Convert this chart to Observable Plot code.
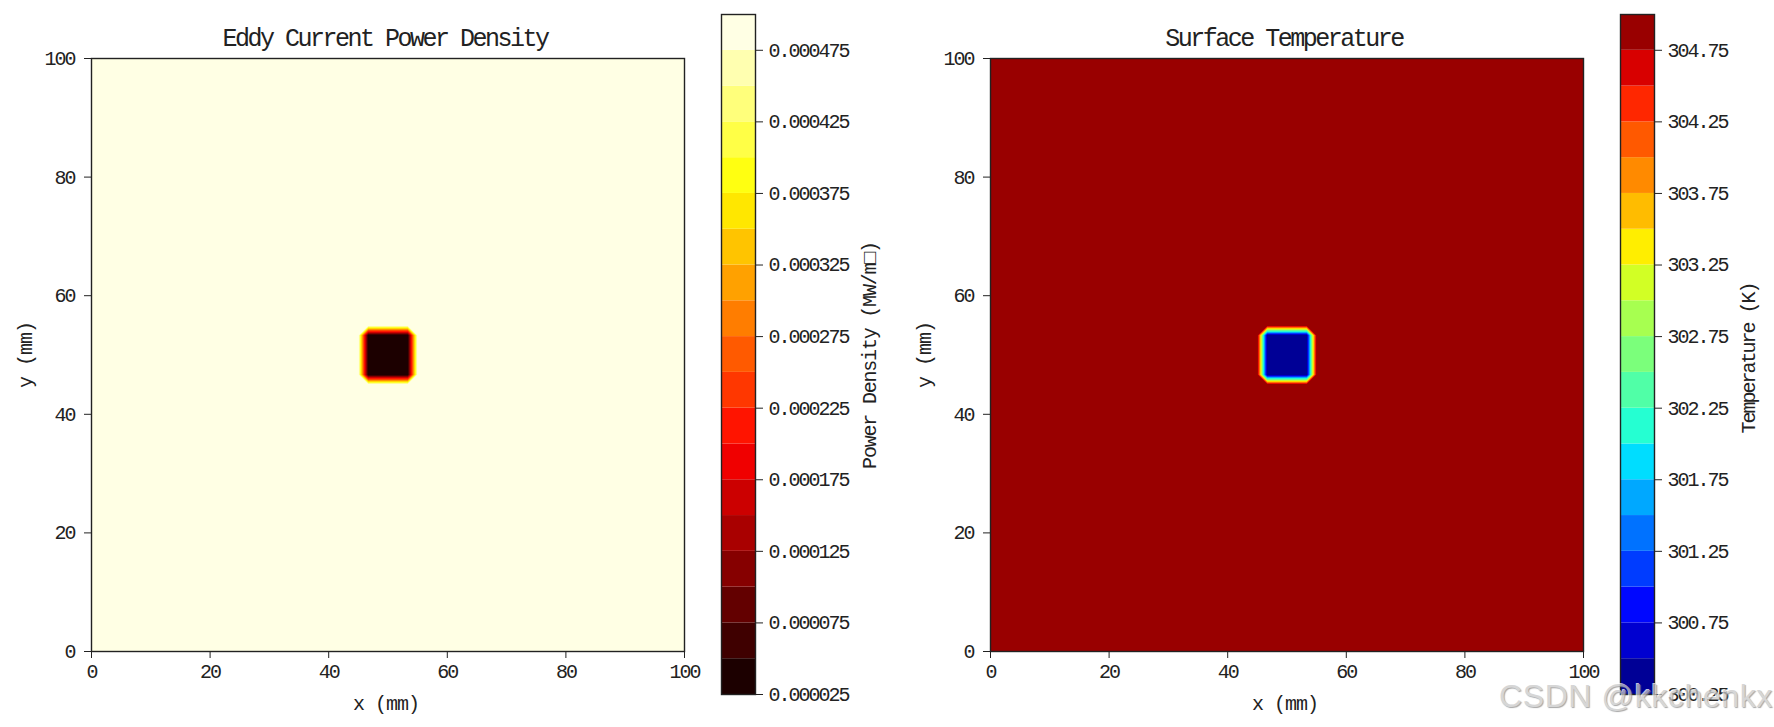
<!DOCTYPE html>
<html>
<head>
<meta charset="utf-8">
<script src="https://cdn.jsdelivr.net/npm/d3@7"></script>
<script src="https://cdn.jsdelivr.net/npm/@observablehq/plot@0.6"></script>
<style>
html,body{margin:0;padding:0;background:#fff;width:1774px;height:727px;overflow:hidden}
#stage{position:relative;width:1774px;height:727px}
#stage>*{position:absolute;top:0}
#mark{left:1499px;top:678px;font:32px "Liberation Sans",sans-serif;color:#c9c9c9;white-space:nowrap;
text-shadow:1px 1px 1px #8a8a8a,-1px -1px 0 #fff;letter-spacing:.6px;opacity:.75}
</style>
</head>
<body>
<div id="stage"></div>
<script>
// Axes
const axisTicks = [0, 20, 40, 60, 80, 100];
const gridPoints = 61;
const holeIndices = [28, 29, 30, 31, 32];

// Eddy current power density
const powerOutside = 0.0005;
const powerHole = 0.00003;
const powerLevels = [0.000025,0.00005,0.000075,0.0001,0.000125,0.00015,0.000175,0.0002,0.000225,0.00025,0.000275,0.0003,0.000325,0.00035,0.000375,0.0004,0.000425,0.00045,0.000475,0.0005];
const powerTicks = [0.000025,0.000075,0.000125,0.000175,0.000225,0.000275,0.000325,0.000375,0.000425,0.000475];
const powerColors = ["#1c0000","#3f0000","#630000","#860000","#a90000","#cc0000","#f00000","#ff1400","#ff3700","#ff5a00","#ff7d00","#ffa100","#ffc400","#ffe700","#ffff11","#ffff46","#ffff7b","#ffffb0","#ffffe4"];

// Surface temperature
const tempOutside = 305;
const tempHole = 300.3;
const tempLevels = [300.25,300.5,300.75,301,301.25,301.5,301.75,302,302.25,302.5,302.75,303,303.25,303.5,303.75,304,304.25,304.5,304.75,305];
const tempTicks = [300.25,300.75,301.25,301.75,302.25,302.75,303.25,303.75,304.25,304.75];
const tempColors = ["#000096","#0000d0","#0007ff","#003cff","#0072ff","#00a8ff","#00ddff","#25ffd2","#50ffa7","#7bff7b","#a7ff50","#d2ff25","#ffee00","#ffbc00","#ff8a00","#ff5900","#ff2700","#d80000","#990000"];

const FONT = '"Liberation Mono","DejaVu Sans Mono",monospace';
const INK = "#222";
const stage = document.getElementById("stage");

function buildField(outside, hole) {
  const f = new Array(gridPoints * gridPoints).fill(outside);
  for (const r of holeIndices) for (const c of holeIndices) f[r * gridPoints + c] = hole;
  return f;
}
const textStyle = {fontFamily: FONT, fontSize: "20px", letterSpacing: "-2px", color: INK, background: "transparent", overflow: "visible"};

function tune(svg, ariaLabel, spacing, dx = 0, dy = 0) {
  for (const el of svg.querySelectorAll(`g[aria-label="${ariaLabel}"]`)) {
    el.style.letterSpacing = spacing;
    el.setAttribute("transform", `translate(${dx},${dy}) ${el.getAttribute("transform") || ""}`);
  }
}

function panel({left, marginLeft, marginRight, labelOffset, title, field, levels, colors}) {
  const half = 100 / (gridPoints - 1) / 2;
  const svg = Plot.plot({
    width: 700, height: 727,
    marginLeft, marginRight, marginTop: 58, marginBottom: 76,
    style: textStyle,
    x: {domain: [0, 100]},
    y: {domain: [0, 100]},
    color: {type: "ordinal", domain: levels.slice(0, -1), range: colors},
    marks: [
      Plot.contour(field, {
        width: gridPoints, height: gridPoints,
        x1: -half, x2: 100 + half, y1: -half, y2: 100 + half,
        thresholds: levels.slice(0, -1), fill: Plot.identity, clip: true
      }),
      Plot.frame({stroke: INK, strokeWidth: 1.4}),
      Plot.axisX({ticks: axisTicks, tickSize: 7, tickPadding: 5, tickFormat: d => d, label: "x (mm)", labelAnchor: "center", labelOffset: 58, labelArrow: "none"}),
      Plot.axisY({ticks: axisTicks, tickSize: 7, tickPadding: 10, tickFormat: d => d, label: "y (mm)", labelAnchor: "center", labelOffset, labelArrow: "none"}),
      Plot.text([title], {frameAnchor: "top", lineAnchor: "middle", dy: -21, fontSize: 25, text: d => d})
    ]
  });
  tune(svg, "text", "-2.5px", -3, 0);
  tune(svg, "x-axis label", "-1px", -2, 0);
  tune(svg, "y-axis label", "-1px");
  svg.style.left = left + "px";
  stage.appendChild(svg);
}

function colorbar({left, marginRight, levels, colors, ticks, format, label, labelOffset, labelSpacing, labelShift}) {
  const bands = colors.map((c, i) => ({lo: levels[i], hi: levels[i + 1]}));
  const svg = Plot.plot({
    width: 21 + 34 + marginRight, height: 727,
    marginLeft: 21, marginRight, marginTop: 14, marginBottom: 33,
    style: textStyle,
    x: {axis: null},
    y: {domain: [levels[0], levels[levels.length - 1]]},
    color: {type: "ordinal", domain: levels.slice(0, -1), range: colors},
    marks: [
      Plot.rect(bands, {y1: "lo", y2: "hi", fill: "lo"}),
      Plot.frame({stroke: INK, strokeWidth: 1.4}),
      Plot.axisY({anchor: "right", ticks, tickSize: 7, tickPadding: 6, tickFormat: format, label, labelAnchor: "center", labelOffset, labelArrow: "none"})
    ]
  });
  tune(svg, "y-axis label", labelSpacing, 0, labelShift);
  svg.style.left = left + "px";
  stage.appendChild(svg);
}

panel({left: 0, marginLeft: 91, marginRight: 16, labelOffset: 74,
  title: "Eddy Current Power Density", field: buildField(powerOutside, powerHole),
  levels: powerLevels, colors: powerColors});
colorbar({left: 700, marginRight: 145, levels: powerLevels, colors: powerColors, ticks: powerTicks,
  format: d3.format(".6f"), label: "Power Density (MW/m□)", labelOffset: 120, labelSpacing: "-1.2px", labelShift: 1});
panel({left: 899, marginLeft: 91, marginRight: 16, labelOffset: 74,
  title: "Surface Temperature", field: buildField(tempOutside, tempHole),
  levels: tempLevels, colors: tempColors});
colorbar({left: 1599, marginRight: 120, levels: tempLevels, colors: tempColors, ticks: tempTicks,
  format: d3.format(".2f"), label: "Temperature (K)", labelOffset: 100, labelSpacing: "-2px", labelShift: 4});

const mark = document.createElement("div");
mark.id = "mark";
mark.textContent = "CSDN @kkchenkx";
stage.appendChild(mark);
</script>
</body>
</html>
